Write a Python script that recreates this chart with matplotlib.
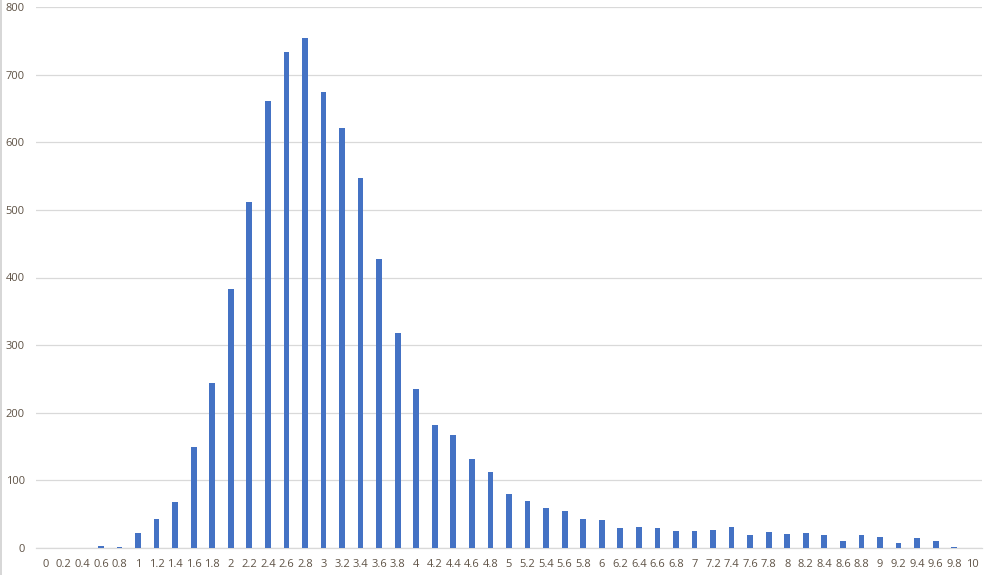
import matplotlib
matplotlib.use("Agg")
import matplotlib.pyplot as plt
from matplotlib.lines import Line2D
import numpy as np

categories = ["0", "0.2", "0.4", "0.6", "0.8", "1", "1.2", "1.4", "1.6", "1.8",
              "2", "2.2", "2.4", "2.6", "2.8", "3", "3.2", "3.4", "3.6", "3.8",
              "4", "4.2", "4.4", "4.6", "4.8", "5", "5.2", "5.4", "5.6", "5.8",
              "6", "6.2", "6.4", "6.6", "6.8", "7", "7.2", "7.4", "7.6", "7.8",
              "8", "8.2", "8.4", "8.6", "8.8", "9", "9.2", "9.4", "9.6", "9.8", "10"]
counts = [0, 0, 0, 3, 1, 22, 43, 68, 149, 244,
          383, 512, 661, 734, 754, 675, 621, 548, 427, 318,
          235, 182, 167, 131, 112, 80, 69, 59, 54, 43,
          41, 29, 31, 29, 25, 25, 26, 31, 19, 23,
          20, 22, 19, 10, 19, 16, 7, 14, 10, 1, 0]
y_ticks = [0, 100, 200, 300, 400, 500, 600, 700, 800]

plt.rcParams['font.family'] = ['Open Sans', 'DejaVu Sans']
label_color = '#5e5245'
grid_color = '#d9d9d9'

fig = plt.figure(figsize=(9.89, 5.75), dpi=100)
ax = fig.add_axes([36/989, 1 - 547.7/575, (982-36)/989, (547.7-7.3)/575])

x = np.arange(len(categories))
ax.bar(x, counts, width=0.31, color='#4472C4', zorder=3)

ax.set_xlim(-0.5, len(categories) - 0.5)
ax.set_ylim(0, 800)
ax.set_yticks(y_ticks)
ax.set_yticklabels([str(v) for v in y_ticks])
ax.set_xticks(x)
ax.set_xticklabels(categories)

ax.yaxis.grid(True, color=grid_color, linewidth=0.9, zorder=0)
ax.set_axisbelow(True)
for s in ['top', 'right', 'left']:
    ax.spines[s].set_visible(False)
ax.spines['bottom'].set_color(grid_color)
ax.spines['bottom'].set_linewidth(0.9)
ax.tick_params(axis='both', length=0, labelsize=8, labelcolor=label_color)
ax.tick_params(axis='y', pad=8)
ax.tick_params(axis='x', pad=8)

fig.add_artist(Line2D([0.0012, 0.0012], [0, 1], color='#d0d0d0', linewidth=1.2,
                      transform=fig.transFigure))

fig.savefig('out.png', dpi=100)
